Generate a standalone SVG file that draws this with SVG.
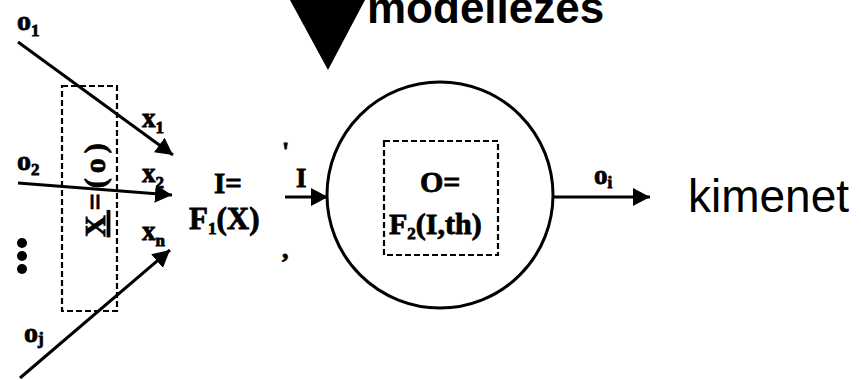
<svg xmlns="http://www.w3.org/2000/svg" width="861" height="380" viewBox="0 0 861 380">
<style>
.lbl{font-family:"Liberation Serif","DejaVu Serif",serif;font-weight:bold;fill:#000;stroke:#000;stroke-width:0.8}
.sub{font-size:17px}
.ln{stroke:#000;stroke-width:3;fill:none}
.dash{stroke:#000;stroke-width:2.2;fill:none;stroke-dasharray:6 3}
.sans{font-family:"Liberation Sans",Arial,sans-serif;fill:#000}
</style>
<defs>
<marker id="ah" markerUnits="userSpaceOnUse" markerWidth="18" markerHeight="20" refX="17" refY="10" orient="auto">
<path d="M0,1 L17,10 L0,19 Z" fill="#000"/>
</marker>
</defs>
<g id="title">
<polygon points="290,0 365,0 328,70" fill="#000"/>
<text class="sans" x="367" y="23" font-size="44" font-weight="bold">modellezés</text>
</g>
<g id="inputs">
<text class="lbl" x="17" y="30" font-size="28">o<tspan class="sub" dy="6">1</tspan></text>
<text class="lbl" x="17" y="170" font-size="28">o<tspan class="sub" dy="5">2</tspan></text>
<text class="lbl" x="24" y="342" font-size="28">o<tspan class="sub" dy="2">j</tspan></text>
<circle cx="22" cy="243" r="5" fill="#000"/>
<circle cx="22" cy="256" r="5" fill="#000"/>
<circle cx="22" cy="269" r="5" fill="#000"/>
</g>
<g id="vector-box">
<rect class="dash" x="62" y="86" width="55" height="225"/>
<text class="lbl" font-size="30" transform="translate(105,237) rotate(-90)" letter-spacing="5"><tspan text-decoration="underline">X</tspan>=(o)</text>
</g>
<g id="xlabels">
<text class="lbl" x="142" y="127" font-size="27">x<tspan class="sub" dy="6">1</tspan></text>
<text class="lbl" x="142" y="182" font-size="27">x<tspan class="sub" dy="6">2</tspan></text>
<text class="lbl" x="142" y="240" font-size="27">x<tspan class="sub" dy="6">n</tspan></text>
</g>
<g id="sum">
<text class="lbl" x="214" y="193" font-size="29">I=</text>
<text class="lbl" x="189" y="229" font-size="31">F<tspan class="sub" dy="5">1</tspan><tspan dy="-5">(X)</tspan></text>
<text class="lbl" x="282" y="160" font-size="26">'</text>
<text class="lbl" x="282" y="258" font-size="26">,</text>
<text class="lbl" x="296" y="187" font-size="27">I</text>
</g>
<g id="neuron">
<circle cx="440" cy="195" r="113" fill="none" stroke="#000" stroke-width="3"/>
<rect class="dash" x="384" y="141" width="114" height="114"/>
<text class="lbl" x="420" y="192" font-size="30">O=</text>
<text class="lbl" x="389" y="234" font-size="30">F<tspan class="sub" dy="5">2</tspan><tspan dy="-5">(I,th)</tspan></text>
</g>
<g id="output">
<text class="lbl" x="594" y="184" font-size="27">o<tspan class="sub" dy="4">i</tspan></text>
<text class="sans" x="688" y="212" font-size="46">kimenet</text>
</g>
<g id="connectors">
<line class="ln" x1="18" y1="42" x2="173" y2="155" marker-end="url(#ah)"/>
<line class="ln" x1="18" y1="183" x2="172" y2="195" marker-end="url(#ah)"/>
<line class="ln" x1="20" y1="378" x2="170" y2="250" marker-end="url(#ah)"/>
<line class="ln" x1="285" y1="197" x2="328" y2="197" marker-end="url(#ah)"/>
<line class="ln" x1="552" y1="197" x2="650" y2="197" marker-end="url(#ah)"/>
</g>
</svg>
